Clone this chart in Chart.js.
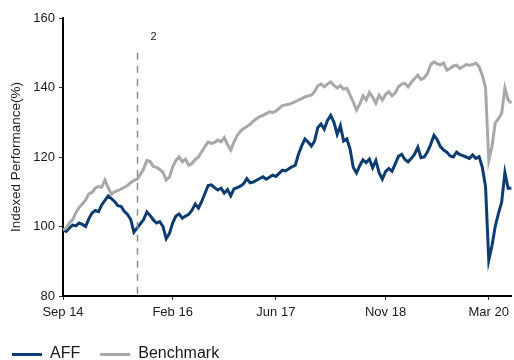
<!DOCTYPE html>
<html>
<head>
<meta charset="utf-8">
<script src="https://cdn.jsdelivr.net/npm/chart.js@4.4.0/dist/chart.umd.min.js"></script>
<style>
  html, body { margin: 0; padding: 0; background: #ffffff; }
  #wrap { width: 514px; height: 360px; }
</style>
</head>
<body>
<div id="wrap"><canvas id="chart" width="514" height="360"></canvas></div>
<script>
// Semi-monthly observations starting September 2014
const startYear = 2014;
const startMonth = 8; // 0-based: September

const affValues = [
  99.0, 98.6, 99.6, 100.4, 100.2, 101.0, 100.6, 100.0, 102.2, 103.9,
  104.6, 104.3, 106.2, 107.5, 108.8, 108.0, 107.2, 106.0, 105.8, 104.4,
  103.5, 102.0, 98.4, 99.6, 100.8, 102.0, 104.2, 103.2, 101.9, 101.0,
  101.4, 100.0, 96.5, 98.0, 101.0, 103.0, 103.6, 102.4, 103.0, 103.5,
  104.7, 106.5, 105.3, 107.2, 109.5, 111.8, 112.0, 111.2, 110.5, 111.0,
  109.6, 110.6, 108.8, 110.8, 111.2, 111.6, 112.3, 113.8, 112.6, 112.8,
  113.3, 113.8, 114.3, 113.6, 114.2, 114.8, 114.4, 115.3, 116.2, 116.0,
  116.6, 117.2, 117.6, 120.8, 123.2, 125.2, 124.3, 123.1, 124.6, 128.5,
  129.5, 128.0, 130.5, 132.0, 130.0, 126.5, 129.0, 124.6, 125.2, 122.3,
  117.0, 115.4, 117.5, 119.2, 118.4, 119.4, 116.9, 119.0, 115.5, 113.6,
  115.8, 116.7, 115.9, 118.0, 120.2, 120.8, 119.3, 118.6, 119.6, 120.8,
  122.8, 119.8, 120.0, 121.5, 123.6, 126.2, 125.0, 123.0, 122.0, 121.4,
  120.3, 120.0, 121.4, 120.7, 120.4, 120.0, 119.6, 120.6, 119.6, 120.1,
  117.0, 111.5, 90.3, 94.5, 100.0, 103.8, 107.0, 115.5, 111.0, 111.0
];

const benchmarkValues = [
  99.0, 99.5, 101.0, 102.0, 104.0, 105.5, 106.5, 107.6, 109.4, 109.8,
  111.0, 111.5, 111.3, 113.4, 111.2, 109.3, 110.0, 110.3, 110.8, 111.3,
  111.8, 112.6, 113.3, 113.6, 115.0, 116.6, 119.0, 118.7, 117.3, 117.0,
  116.4, 115.6, 113.4, 114.2, 117.2, 119.0, 120.0, 118.6, 119.4, 117.6,
  118.2, 119.3, 120.0, 121.5, 123.0, 124.3, 123.9, 124.2, 124.9, 124.4,
  125.6, 123.6, 122.0, 124.3, 126.2, 127.4, 128.2, 128.8, 129.4, 130.3,
  131.0, 131.6, 132.0, 132.5, 133.0, 132.8, 133.2, 134.0, 134.8, 135.0,
  135.2, 135.5, 135.9, 136.4, 136.8, 137.3, 137.6, 137.8, 138.8, 140.5,
  141.0, 140.2, 141.0, 141.6, 140.6, 139.9, 140.5, 139.5, 139.8, 137.8,
  135.8, 133.5, 135.2, 137.6, 136.4, 138.6, 137.2, 135.5, 137.8, 136.4,
  138.0, 138.8, 137.6, 138.5, 140.2, 141.0, 141.2, 140.2, 141.5, 142.6,
  143.5, 142.3, 142.8, 144.0, 146.6, 147.4, 146.8, 146.5, 147.0, 145.0,
  145.5, 146.2, 146.4, 145.5, 146.0, 146.6, 146.4, 146.6, 147.0, 146.0,
  143.5, 140.0, 119.0, 123.0, 129.8, 131.0, 132.6, 139.8, 136.4, 135.5
];

const tickLabels = ['Sep 14', 'Feb 16', 'Jun 17', 'Nov 18', 'Mar 20'];
const tickIndices = [0, 34, 66, 100, 132];

// Event marker: dashed vertical line with a numbered note
const markerIndex = 23;
const markerTop = 150;
const markerText = '2';

const periods = affValues.map((_, i) => {
  const m = startMonth + Math.floor(i / 2);
  const y = startYear + Math.floor(m / 12);
  const mm = String((m % 12) + 1).padStart(2, '0');
  const dd = i % 2 ? '16' : '01';
  return `${y}-${mm}-${dd}`;
});

const FONT = 'Liberation Sans, Arial, Helvetica, sans-serif';
const TEXT = '#1a1a1a';
const NAVY = '#0d3d70';
const GREY = '#a8a8a8';

const markerPlugin = {
  id: 'markerLine',
  afterDatasetsDraw(chart) {
    const { ctx, chartArea, scales } = chart;
    const x = Math.round(scales.x.getPixelForValue(markerIndex)) + 0.5;
    const yTop = scales.y.getPixelForValue(markerTop);
    ctx.save();
    ctx.strokeStyle = '#8f8f8f';
    ctx.lineWidth = 1.5;
    ctx.setLineDash([7, 6]);
    ctx.beginPath();
    ctx.moveTo(x, yTop);
    ctx.lineTo(x, chartArea.bottom);
    ctx.stroke();
    ctx.setLineDash([]);
    ctx.fillStyle = TEXT;
    ctx.font = `11px ${FONT}`;
    ctx.textAlign = 'center';
    ctx.textBaseline = 'middle';
    ctx.fillText(markerText, x + 16, yTop - 16);
    ctx.restore();
  }
};

const legendPlugin = {
  id: 'bottomLegend',
  afterDraw(chart) {
    const { ctx } = chart;
    ctx.save();
    ctx.font = `16px ${FONT}`;
    ctx.textBaseline = 'alphabetic';
    ctx.textAlign = 'left';
    let x = 12;
    const lineY = 354.5;
    chart.data.datasets.forEach(ds => {
      ctx.strokeStyle = ds.borderColor;
      ctx.lineWidth = 3;
      ctx.beginPath();
      ctx.moveTo(x, lineY);
      ctx.lineTo(x + 30, lineY);
      ctx.stroke();
      ctx.fillStyle = TEXT;
      ctx.fillText(ds.label, x + 38, 358);
      x += 38 + ctx.measureText(ds.label).width + 20;
    });
    ctx.restore();
  }
};

new Chart(document.getElementById('chart'), {
  type: 'line',
  data: {
    labels: periods,
    datasets: [
      { label: 'AFF', data: affValues, borderColor: NAVY, borderWidth: 3,
        pointRadius: 0, tension: 0, order: 1 },
      { label: 'Benchmark', data: benchmarkValues, borderColor: GREY, borderWidth: 3,
        pointRadius: 0, tension: 0, order: 0 }
    ]
  },
  options: {
    responsive: false,
    devicePixelRatio: 1,
    animation: false,
    layout: { padding: { top: 18, right: 0, left: 0, bottom: 0 } },
    plugins: { legend: { display: false }, tooltip: { enabled: false } },
    scales: {
      x: {
        type: 'category',
        offset: false,
        grid: { display: true, drawOnChartArea: false, tickLength: 4, tickColor: '#333', tickWidth: 1 },
        border: { display: true, color: '#000', width: 2 },
        ticks: {
          autoSkip: false, maxRotation: 0, minRotation: 0, padding: 5,
          color: TEXT, font: { family: FONT, size: 13 },
          callback: (v, i) => {
            const k = tickIndices.indexOf(i);
            return k >= 0 ? tickLabels[k] : null;
          }
        },
        afterFit: s => { s.height = 64; }
      },
      y: {
        min: 80, max: 160,
        grid: { display: true, drawOnChartArea: false, tickLength: 4, tickColor: '#333', tickWidth: 1 },
        border: { display: true, color: '#000', width: 2 },
        ticks: { stepSize: 20, padding: 4, color: TEXT, font: { family: FONT, size: 13 } },
        title: {
          display: true, text: 'Indexed Performance(%)', color: TEXT,
          font: { family: FONT, size: 13.5 }, padding: { top: 8, bottom: 0 }
        },
        afterFit: s => { s.width = 63; }
      }
    }
  },
  plugins: [markerPlugin, legendPlugin]
});
</script>
</body>
</html>
